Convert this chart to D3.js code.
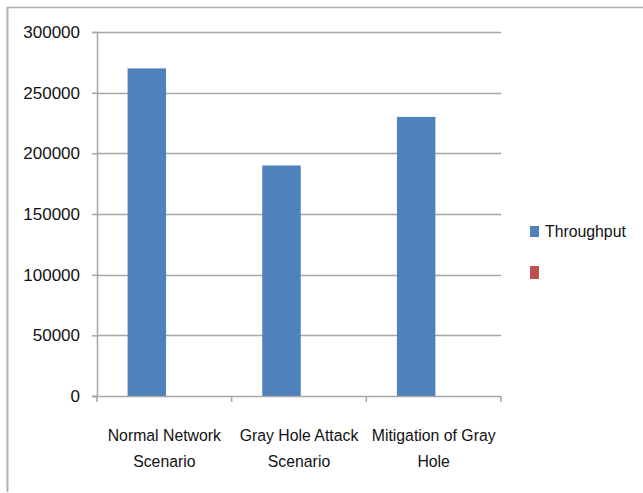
<!DOCTYPE html>
<html>
<head>
<meta charset="utf-8">
<script src="https://cdn.jsdelivr.net/npm/d3@7/dist/d3.min.js"></script>
<style>
  html, body { margin: 0; padding: 0; background: #fff; }
  svg { display: block; }
  text { font-family: "Liberation Sans", Arial, sans-serif; fill: #111; }
</style>
</head>
<body>
<svg id="chart" width="643" height="493"></svg>
<script>
const categories = [["Normal Network", "Scenario"], ["Gray Hole Attack", "Scenario"], ["Mitigation of Gray", "Hole"]];
const seriesNames = ["Throughput", ""];
const throughput = [270000, 190000, 230000];
const series2 = [null, null, null];
const yTicks = [0, 50000, 100000, 150000, 200000, 250000, 300000];
const colors = ["#4F81BD", "#C0504D"];

const svg = d3.select("#chart");
const W = 643, H = 493;
const mLeft = 97, mRight = 501, mTop = 32, mBottom = 396;
const squeeze = 0.93;

// frame
svg.append("line").attr("x1", 7).attr("x2", W).attr("y1", 7.5).attr("y2", 7.5)
  .attr("stroke", "#b0b0b0").attr("stroke-width", 1.5);
svg.append("line").attr("x1", 7.5).attr("x2", 7.5).attr("y1", 7).attr("y2", 492)
  .attr("stroke", "#b0b0b0").attr("stroke-width", 2);

const y = d3.scaleLinear().domain([0, 300000]).range([mBottom, mTop]);
const catIdx = categories.map((d, i) => i);
const x0 = d3.scaleBand().domain(catIdx).range([mLeft, mRight]).padding(0);
const x1 = d3.scaleBand().domain([0, 1]).range([0, x0.bandwidth()]).paddingInner(0).paddingOuter(0.75).align(0.53);

// gridlines
svg.append("g").selectAll("line").data(yTicks.filter(t => t > 0)).join("line")
  .attr("x1", mLeft).attr("x2", mRight)
  .attr("y1", d => Math.round(y(d)) + 0.5).attr("y2", d => Math.round(y(d)) + 0.5)
  .attr("stroke", "#a6a6a6").attr("stroke-width", 1.5);

// y axis
const yAxis = d3.axisLeft(y).tickValues(yTicks).tickSize(5).tickPadding(12).tickFormat(d3.format("d"));
const gy = svg.append("g").attr("transform", `translate(${mLeft},0)`).call(yAxis);
gy.select(".domain").attr("stroke", "#a6a6a6").attr("stroke-width", 1.5);
gy.selectAll(".tick line").attr("stroke", "#a6a6a6").attr("stroke-width", 1.5);
gy.selectAll(".tick text").attr("font-size", 17).attr("fill", "#111")
  .attr("font-family", "\"Liberation Sans\", Arial, sans-serif");

// bars
const data = [throughput, series2];
data.forEach((vals, s) => {
  svg.append("g").selectAll("rect").data(vals.map((v, i) => ({ v, i })).filter(d => d.v != null)).join("rect")
    .attr("x", d => x0(d.i) + x1(s))
    .attr("width", x1.bandwidth())
    .attr("y", d => y(d.v))
    .attr("height", d => y(0) - y(d.v))
    .attr("fill", colors[s]);
});

// x axis
svg.append("line").attr("x1", mLeft - 5).attr("x2", mRight).attr("y1", mBottom + 0.5).attr("y2", mBottom + 0.5)
  .attr("stroke", "#a6a6a6").attr("stroke-width", 1.5);
const tickPos = catIdx.map(i => x0(i)).concat([x0(catIdx[catIdx.length - 1]) + x0.bandwidth()]);
svg.append("g").selectAll("line").data(tickPos).join("line")
  .attr("x1", d => d).attr("x2", d => d).attr("y1", mBottom).attr("y2", mBottom + 6)
  .attr("stroke", "#a6a6a6").attr("stroke-width", 1.5);

svg.append("g").selectAll("text").data(categories.map((c, i) => ({ c, i }))).join("text")
  .attr("text-anchor", "middle").attr("font-size", 17)
  .attr("transform", d => `translate(${x0(d.i) + x0.bandwidth() / 2},0) scale(${squeeze},1)`)
  .each(function(d) {
    const t = d3.select(this);
    d.c.forEach((line, k) => {
      t.append("tspan").attr("x", 0).attr("y", 441 + k * 26).text(line);
    });
  });

// legend
const legend = svg.append("g");
seriesNames.forEach((name, s) => {
  const ly = 226 + s * 40;
  legend.append("rect").attr("x", 530).attr("y", ly).attr("width", 9).attr("height", s === 0 ? 11 : 13).attr("fill", colors[s]);
  legend.append("text").attr("transform", `translate(545,${ly + 11}) scale(${squeeze},1)`)
    .attr("font-size", 17).text(name);
});
</script>
</body>
</html>
